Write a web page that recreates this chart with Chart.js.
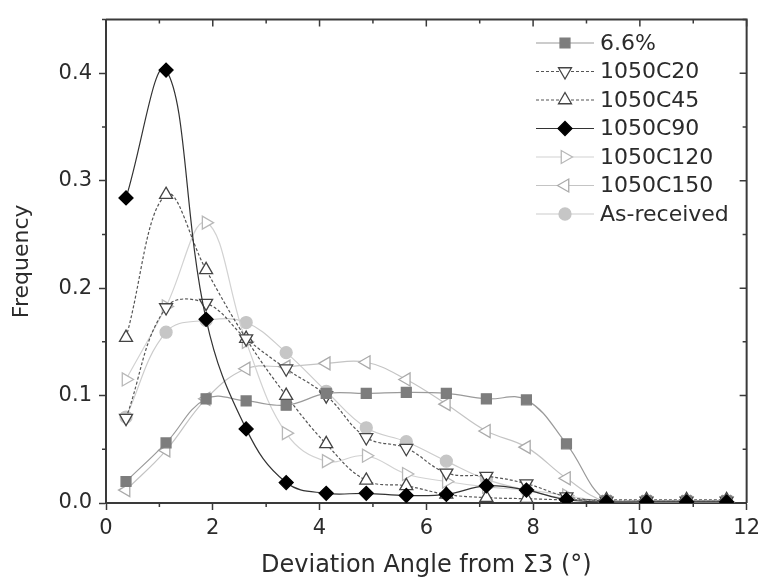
<!DOCTYPE html>
<html>
<head>
<meta charset="utf-8">
<script src="https://cdn.jsdelivr.net/npm/chart.js@4/dist/chart.umd.min.js"></script>
<style>
  body { margin: 0; background: #fff; }
  #wrap { width: 766px; height: 582px; }
</style>
</head>
<body>
<div id="wrap"><canvas id="chart" width="766" height="582"></canvas></div>
<script>
// bin centres (deg)
const angles = [0.375, 1.125, 1.875, 2.625, 3.375, 4.125, 4.875, 5.625,
                6.375, 7.125, 7.875, 8.625, 9.375, 10.125, 10.875, 11.625];

const seriesNames = ['6.6%', '1050C20', '1050C45', '1050C90', '1050C120', '1050C150', 'As-received'];

const pct66      = [0.020, 0.056, 0.097, 0.095, 0.091, 0.102, 0.102, 0.103, 0.102, 0.097, 0.096, 0.055, 0.002, 0.002, 0.002, 0.002];
const c1050c20   = [0.079, 0.182, 0.186, 0.153, 0.125, 0.100, 0.061, 0.051, 0.028, 0.025, 0.018, 0.006, 0.002, 0.002, 0.002, 0.002];
const c1050c45   = [0.154, 0.287, 0.217, 0.153, 0.100, 0.055, 0.021, 0.016, 0.008, 0.005, 0.004, 0.003, 0.003, 0.003, 0.003, 0.003];
const c1050c90   = [0.284, 0.403, 0.171, 0.069, 0.019, 0.009, 0.009, 0.007, 0.008, 0.016, 0.012, 0.003, 0.001, 0.001, 0.001, 0.001];
const c1050c120  = [0.115, 0.183, 0.261, 0.150, 0.065, 0.039, 0.044, 0.027, 0.020, 0.015, 0.012, 0.007, 0.001, 0.001, 0.001, 0.001];
const c1050c150  = [0.012, 0.049, 0.097, 0.125, 0.127, 0.130, 0.131, 0.115, 0.092, 0.067, 0.052, 0.023, 0.001, 0.001, 0.001, 0.001];
const asReceived = [0.080, 0.159, 0.170, 0.168, 0.140, 0.104, 0.070, 0.057, 0.039, 0.022, 0.012, 0.004, 0.001, 0.001, 0.001, 0.001];

const X_MIN = 0, X_MAX = 12, X_STEP = 2;
const Y_MIN = 0, Y_MAX = 0.45, Y_STEP = 0.1;

const FONT = "'DejaVu Sans', Arial, sans-serif";
const TEXT_COLOR = '#2b2b2b';
const AXIS_COLOR = '#3a3a3a';

function pts(vals) {
    return vals.map((v, i) => ({ x: angles[i], y: v }));
}

const styles = [
    { data: pct66,      line: '#9a9a9a', dash: [],     point: 'rect',     rot: 0,   r: 7,   fill: '#7d7d7d', stroke: '#7d7d7d' },
    { data: c1050c20,   line: '#555555', dash: [3, 2], point: 'triangle', rot: 180, r: 7.5, fill: '#ffffff', stroke: '#444444' },
    { data: c1050c45,   line: '#555555', dash: [3, 2], point: 'triangle', rot: 0,   r: 7.5, fill: '#ffffff', stroke: '#444444' },
    { data: c1050c90,   line: '#333333', dash: [],     point: 'rectRot',  rot: 0,   r: 7,   fill: '#000000', stroke: '#000000' },
    { data: c1050c120,  line: '#d2d2d2', dash: [],     point: 'triangle', rot: 90,  r: 7.5, fill: '#ffffff', stroke: '#b8b8b8' },
    { data: c1050c150,  line: '#c4c4c4', dash: [],     point: 'triangle', rot: 270, r: 7.5, fill: '#ffffff', stroke: '#aaaaaa' },
    { data: asReceived, line: '#cccccc', dash: [],     point: 'circle',   rot: 0,   r: 6,   fill: '#c6c6c6', stroke: '#c6c6c6' }
];

const datasets = styles.map((s, i) => ({
    label: seriesNames[i],
    data: pts(s.data),
    borderColor: s.line,
    borderWidth: 1.2,
    borderDash: s.dash,
    tension: 0.4,
    pointStyle: s.point,
    rotation: s.rot,
    pointRadius: s.r,
    pointBackgroundColor: s.fill,
    pointBorderColor: s.stroke,
    pointBorderWidth: 1.3,
    order: seriesNames[i] === '1050C90' ? 0 : 1 + i
}));

// top/right frame plus minor ticks
const framePlugin = {
    id: 'frame',
    afterDraw(chart) {
        const { ctx, chartArea: a, scales: { x, y } } = chart;
        ctx.save();
        ctx.strokeStyle = AXIS_COLOR;
        ctx.lineWidth = 2;
        ctx.beginPath();
        ctx.moveTo(a.left, a.top);
        ctx.lineTo(a.right, a.top);
        ctx.lineTo(a.right, a.bottom);
        ctx.stroke();

        ctx.lineWidth = 1.5;
        ctx.beginPath();
        for (let v = X_MIN; v <= X_MAX; v += 1) {
            const px = x.getPixelForValue(v);
            const major = v % X_STEP === 0;
            const len = major ? 7 : 4;
            ctx.moveTo(px, a.top);
            ctx.lineTo(px, a.top + len);
            if (!major) {
                ctx.moveTo(px, a.bottom);
                ctx.lineTo(px, a.bottom + len);
            }
        }
        for (let k = 0; k <= 9; k++) {
            const v = k * 0.05;
            const py = y.getPixelForValue(v);
            const major = k % 2 === 0;
            const len = major ? 7 : 4;
            ctx.moveTo(a.right, py);
            ctx.lineTo(a.right - len, py);
            if (!major) {
                ctx.moveTo(a.left, py);
                ctx.lineTo(a.left - len, py);
            }
        }
        ctx.stroke();
        ctx.restore();
    }
};

// Origin-style legend: line sample with marker in the middle
const legendPlugin = {
    id: 'originLegend',
    afterDraw(chart) {
        const ctx = chart.ctx;
        const x0 = 536, x1 = 594, xm = 565, xt = 600;
        const top = 43, gap = 28.5;
        ctx.save();
        styles.forEach((s, i) => {
            const yy = top + i * gap;
            ctx.strokeStyle = s.line;
            ctx.lineWidth = 1.2;
            ctx.setLineDash(s.dash);
            ctx.beginPath();
            ctx.moveTo(x0, yy);
            ctx.lineTo(x1, yy);
            ctx.stroke();
            ctx.setLineDash([]);
            ctx.fillStyle = s.fill;
            ctx.strokeStyle = s.stroke;
            ctx.lineWidth = 1.3;
            Chart.helpers.drawPoint(ctx, { pointStyle: s.point, rotation: s.rot, radius: s.r, borderWidth: 1.3 }, xm, yy);
            ctx.fillStyle = TEXT_COLOR;
            ctx.font = '22px ' + FONT;
            ctx.textAlign = 'left';
            ctx.textBaseline = 'middle';
            ctx.fillText(seriesNames[i], xt, yy + 1);
        });
        ctx.restore();
    }
};

new Chart(document.getElementById('chart'), {
    type: 'line',
    data: { datasets },
    plugins: [framePlugin, legendPlugin],
    options: {
        responsive: false,
        animation: false,
        layout: { padding: { top: 13, right: 14, left: 0, bottom: 0 } },
        plugins: {
            legend: { display: false },
            tooltip: { enabled: false }
        },
        scales: {
            x: {
                type: 'linear',
                min: X_MIN,
                max: X_MAX,
                afterFit: s => { s.height = 79; },
                border: { display: true, color: AXIS_COLOR, width: 2 },
                grid: { drawOnChartArea: false, drawTicks: true, tickLength: 7, tickColor: AXIS_COLOR, tickWidth: 1.5 },
                ticks: {
                    stepSize: X_STEP,
                    padding: 6,
                    color: TEXT_COLOR,
                    font: { family: FONT, size: 21 },
                    maxRotation: 0
                },
                title: {
                    display: true,
                    text: 'Deviation Angle from Σ3 (°)',
                    color: TEXT_COLOR,
                    font: { family: FONT, size: 24 },
                    padding: { top: 0, bottom: 2 }
                }
            },
            y: {
                min: Y_MIN,
                max: Y_MAX,
                afterFit: s => { s.width = 106; },
                border: { display: true, color: AXIS_COLOR, width: 2 },
                grid: { drawOnChartArea: false, drawTicks: true, tickLength: 7, tickColor: AXIS_COLOR, tickWidth: 1.5 },
                ticks: {
                    stepSize: Y_STEP,
                    includeBounds: false,
                    padding: 7,
                    color: TEXT_COLOR,
                    font: { family: FONT, size: 21 },
                    callback: v => v.toFixed(1)
                },
                title: {
                    display: true,
                    text: 'Frequency',
                    color: TEXT_COLOR,
                    font: { family: FONT, size: 22 },
                    padding: { top: 9, bottom: 0 }
                }
            }
        }
    }
});
</script>
</body>
</html>
